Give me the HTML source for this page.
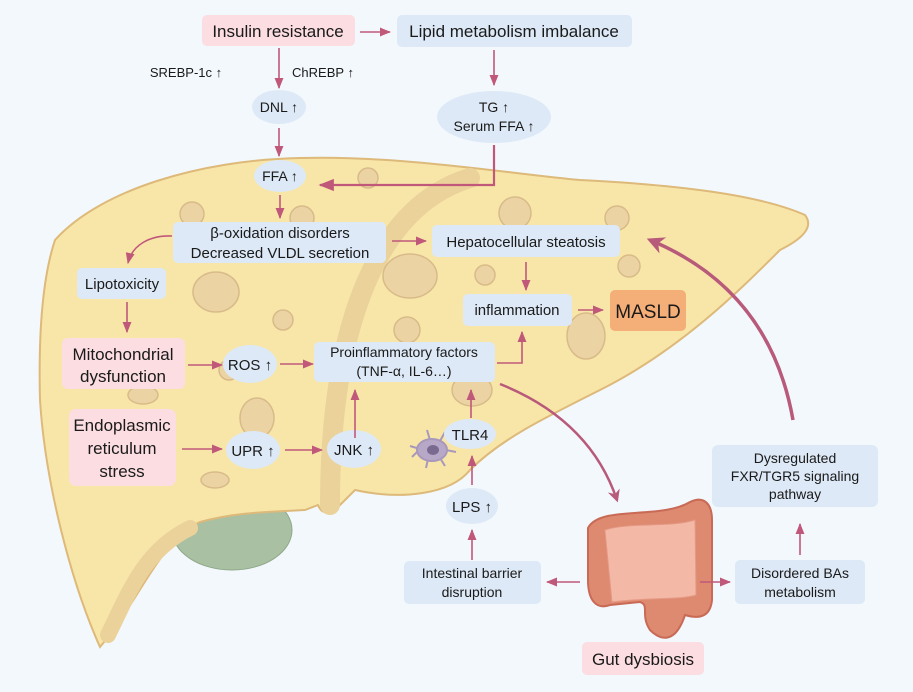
<!DOCTYPE html>
<html><head><meta charset="utf-8"><style>
html,body{margin:0;padding:0;background:#f3f8fc;}
svg{display:block;font-family:"Liberation Sans",sans-serif;}
text{fill:#1a1a1a;}
</style></head><body>
<svg width="913" height="692" viewBox="0 0 913 692" xmlns="http://www.w3.org/2000/svg">
<defs>
<marker id="a" viewBox="0 0 10 10" refX="9" refY="5" markerWidth="7" markerHeight="7" orient="auto"><path d="M0,1 L10,5 L0,9 z" fill="#c0587a"/></marker>
<marker id="b" viewBox="0 0 10 10" refX="8" refY="5" markerWidth="5" markerHeight="5" orient="auto"><path d="M0,0 L10,5 L0,10 L3,5 z" fill="#b85a7a"/></marker>
</defs>
<rect width="913" height="692" fill="#f3f8fc"/>
<!-- gallbladder -->
<ellipse cx="232" cy="530" rx="60" ry="40" fill="#a9c0a2" stroke="#8fa88a"/>
<!-- liver -->
<path d="M55,240 C100,190 200,160 300,158 C400,155 520,175 580,180 C680,185 760,195 805,215 C815,228 800,240 780,250 C740,290 680,350 600,390 C540,420 500,440 470,470 C450,495 400,500 355,490 L340,505 C330,515 322,515 318,505 L305,510 C270,512 235,512 200,522 C160,540 140,600 100,647 C70,580 45,480 40,400 C38,320 45,270 55,240 Z" fill="#f8e6a9" stroke="#ddb97a" stroke-width="2"/>
<path d="M470,178 C380,205 330,320 330,505" fill="none" stroke="#ebd29a" stroke-width="20" stroke-linecap="round"/>
<path d="M108,635 C130,590 145,550 190,528" fill="none" stroke="#ebd29a" stroke-width="16" stroke-linecap="round"/>
<!-- fat droplets -->
<g fill="#ecd3a4" stroke="#d8bb88" stroke-width="1.5">
<circle cx="192" cy="214" r="12"/><circle cx="302" cy="218" r="12"/><ellipse cx="216" cy="292" rx="23" ry="20"/><circle cx="283" cy="320" r="10"/><circle cx="407" cy="330" r="13"/><ellipse cx="410" cy="276" rx="27" ry="22"/><circle cx="515" cy="213" r="16"/><circle cx="617" cy="218" r="12"/><circle cx="629" cy="266" r="11"/><ellipse cx="586" cy="336" rx="19" ry="23"/><circle cx="485" cy="275" r="10"/><ellipse cx="257" cy="418" rx="17" ry="20"/><ellipse cx="143" cy="395" rx="15" ry="9"/><ellipse cx="215" cy="480" rx="14" ry="8"/><circle cx="229" cy="370" r="10"/><ellipse cx="472" cy="390" rx="20" ry="16"/><circle cx="368" cy="178" r="10"/>
</g>
<!-- macrophage -->
<g fill="#b8a8c8" stroke="#a898bb" stroke-width="2">
<path d="M420,449 l-10,-3 M420,449 l-8,8 M430,440 l-3,-10 M440,441 l5,-9 M446,450 l10,2 M440,458 l5,8 M428,459 l-2,9"/>
<ellipse cx="432" cy="450" rx="15" ry="11"/></g>
<ellipse cx="433" cy="450" rx="6" ry="5" fill="#7a6a90"/>
<!-- gut -->
<g>
<path d="M588,528 C600,505 660,520 690,502 C705,495 712,505 712,520 L712,600 C710,620 695,618 685,615 C675,645 660,640 650,630 C640,615 650,605 640,602 L610,605 C596,610 588,600 588,580 Z" fill="#de8a70" stroke="#c86a56" stroke-width="2"/>
<path d="M605,530 C630,522 670,528 695,520 L696,595 C680,600 650,597 612,602 Z" fill="#f3b9a6" stroke="#e59a86"/>
</g>
<!-- boxes -->
<g fill="#dde9f6">
<rect x="397" y="15" width="235" height="32" rx="5"/>
<rect x="173" y="222" width="213" height="41" rx="5"/>
<rect x="432" y="225" width="188" height="32" rx="5"/>
<rect x="77" y="268" width="89" height="31" rx="5"/>
<rect x="314" y="342" width="181" height="40" rx="5"/>
<rect x="463" y="294" width="109" height="32" rx="5"/>
<rect x="404" y="561" width="137" height="43" rx="5"/>
<rect x="735" y="560" width="130" height="44" rx="5"/>
<rect x="712" y="445" width="166" height="62" rx="6"/>
<ellipse cx="279" cy="107" rx="27" ry="17"/><ellipse cx="494" cy="117" rx="57" ry="26"/>
<ellipse cx="280" cy="176" rx="26" ry="16"/><ellipse cx="250" cy="364" rx="27" ry="19"/>
<ellipse cx="253" cy="450" rx="27" ry="19"/><ellipse cx="354" cy="449" rx="27" ry="19"/>
<ellipse cx="470" cy="434" rx="26" ry="15"/><ellipse cx="472" cy="506" rx="26" ry="18"/>
</g>
<g fill="#fbdde2">
<rect x="202" y="15" width="153" height="31" rx="5"/>
<rect x="62" y="338" width="123" height="51" rx="6"/>
<rect x="69" y="409" width="107" height="77" rx="7"/>
<rect x="582" y="642" width="122" height="33" rx="5"/>
</g>
<rect x="610" y="290" width="76" height="41" rx="5" fill="#f4ae78"/>
<!-- arrows -->
<g stroke="#c0587a" stroke-width="1.6" fill="none" marker-end="url(#a)">
<path d="M360,32 H390"/><path d="M279,48 V88"/><path d="M279,128 V156"/><path d="M494,50 V85"/>
<path d="M494,145 V185 H320" stroke-width="2.2"/><path d="M280,195 V218"/><path d="M392,241 H426"/>
<path d="M172,236 C150,235 132,245 128,263"/><path d="M127,302 V332"/><path d="M188,365 H222"/>
<path d="M280,364 H313"/><path d="M355,438 V390"/><path d="M182,449 H222"/><path d="M285,450 H322"/>
<path d="M471,418 V390"/><path d="M526,262 V290"/><path d="M578,310 H603"/><path d="M497,363 H522 V332"/>
<path d="M472,485 V456"/><path d="M472,560 V530"/><path d="M580,582 H547"/><path d="M700,582 H730"/><path d="M800,555 V524"/>
</g>
<path d="M500,384 Q590,420 617,500" stroke="#b85a7a" stroke-width="2.5" fill="none" marker-end="url(#b)"/>
<path d="M793,420 Q770,290 650,240" stroke="#b85a7a" stroke-width="3.5" fill="none" marker-end="url(#b)"/>
<!-- text -->
<g font-size="16" text-anchor="middle">
<text x="278" y="37" font-size="17">Insulin resistance</text>
<text x="514" y="37" font-size="17">Lipid metabolism imbalance</text>
<text x="186" y="77" font-size="13">SREBP-1c ↑</text>
<text x="323" y="77" font-size="13">ChREBP ↑</text>
<text x="279" y="112" font-size="14">DNL ↑</text>
<text x="494" y="112" font-size="14">TG ↑</text>
<text x="494" y="131" font-size="14">Serum FFA ↑</text>
<text x="280" y="181" font-size="14">FFA ↑</text>
<text x="280" y="238" font-size="15">β-oxidation disorders</text>
<text x="280" y="258" font-size="15">Decreased VLDL secretion</text>
<text x="526" y="247" font-size="15">Hepatocellular steatosis</text>
<text x="122" y="289" font-size="15">Lipotoxicity</text>
<text x="123" y="360" font-size="17">Mitochondrial</text>
<text x="123" y="382" font-size="17">dysfunction</text>
<text x="250" y="370" font-size="15">ROS ↑</text>
<text x="404" y="357" font-size="14">Proinflammatory factors</text>
<text x="404" y="376" font-size="14">(TNF-α, IL-6…)</text>
<text x="517" y="315" font-size="15">inflammation</text>
<text x="648" y="318" font-size="19">MASLD</text>
<text x="122" y="431" font-size="17">Endoplasmic</text>
<text x="122" y="454" font-size="17">reticulum</text>
<text x="122" y="477" font-size="17">stress</text>
<text x="253" y="456" font-size="15">UPR ↑</text>
<text x="354" y="455" font-size="15">JNK ↑</text>
<text x="470" y="440" font-size="15">TLR4</text>
<text x="472" y="512" font-size="15">LPS ↑</text>
<text x="472" y="578" font-size="14">Intestinal barrier</text>
<text x="472" y="597" font-size="14">disruption</text>
<text x="643" y="665" font-size="17">Gut dysbiosis</text>
<text x="800" y="578" font-size="14">Disordered BAs</text>
<text x="800" y="597" font-size="14">metabolism</text>
<text x="795" y="463" font-size="14">Dysregulated</text>
<text x="795" y="481" font-size="14">FXR/TGR5 signaling</text>
<text x="795" y="499" font-size="14">pathway</text>
</g>
</svg>
</body></html>
